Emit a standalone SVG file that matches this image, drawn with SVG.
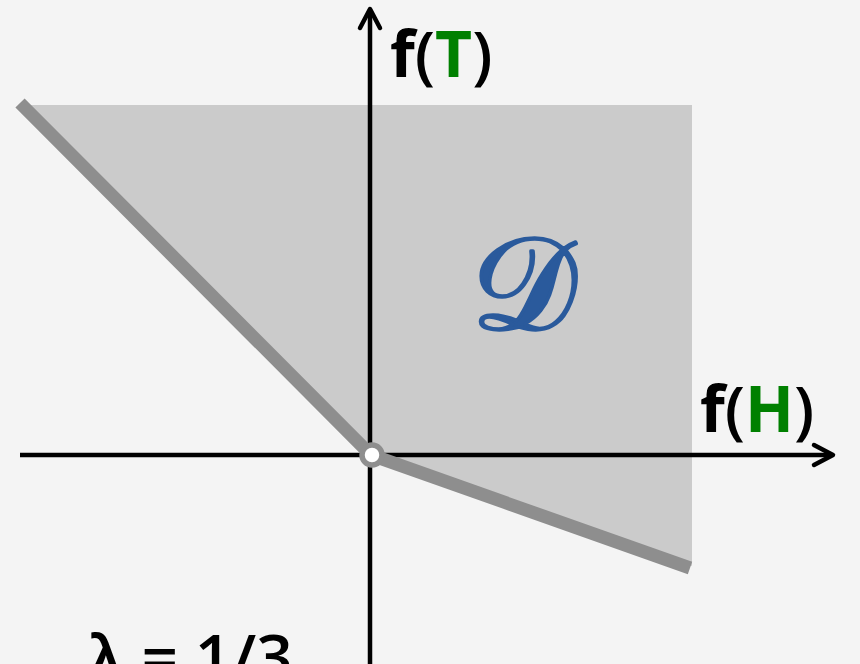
<svg xmlns="http://www.w3.org/2000/svg" width="860" height="664" viewBox="0 0 860 664">
<defs>
<style>
.axis{stroke:#000;stroke-width:4.5;fill:none}
.head{stroke:#000;stroke-width:4.5;fill:none;stroke-linecap:round;stroke-linejoin:round}
.lbl{font-family:"Open Sans","Liberation Sans",sans-serif;font-weight:bold;font-size:64px;fill:#000}
.p{font-weight:600}
.g{fill:#008000}
</style>
</defs>
<rect width="860" height="664" fill="#f4f4f4"/>
<g id="region">
<polygon points="20,105 692,105 692,566 371,455" fill="#cbcbcb"/>
</g>
<g id="connectors">
<line class="axis" x1="20" y1="455" x2="832" y2="455"/>
<polyline class="head" points="814,445 833,455 814,465"/>
<line class="axis" x1="370" y1="664" x2="370" y2="10"/>
<polyline class="head" points="360,28 370,9 380,28"/>
<polyline points="20,103 371,455 690,568" fill="none" stroke="#8e8e8e" stroke-width="13"/>
</g>
<g id="origin">
<circle cx="372" cy="455" r="10" fill="#fff" stroke="#8e8e8e" stroke-width="5.5"/>
</g>
<g id="label-T">
<text class="lbl" x="390" y="77">f<tspan class="p">(</tspan><tspan class="g">T</tspan><tspan class="p">)</tspan></text>
</g>
<g id="label-H">
<text class="lbl" x="700" y="432">f<tspan class="p">(</tspan><tspan class="g">H</tspan><tspan class="p">)</tspan></text>
</g>
<g id="label-D">
<text x="471" y="329" font-family="DejaVu Serif, serif" font-size="132" fill="#2a5a9c" stroke="#2a5a9c" stroke-width="3.5" stroke-linejoin="round">𝒟</text>
</g>
<g id="label-lambda">
<text x="88" y="680" font-family="Open Sans, Liberation Sans, sans-serif" font-weight="600" font-size="64" fill="#000">λ = 1/3</text>
</g>
</svg>
